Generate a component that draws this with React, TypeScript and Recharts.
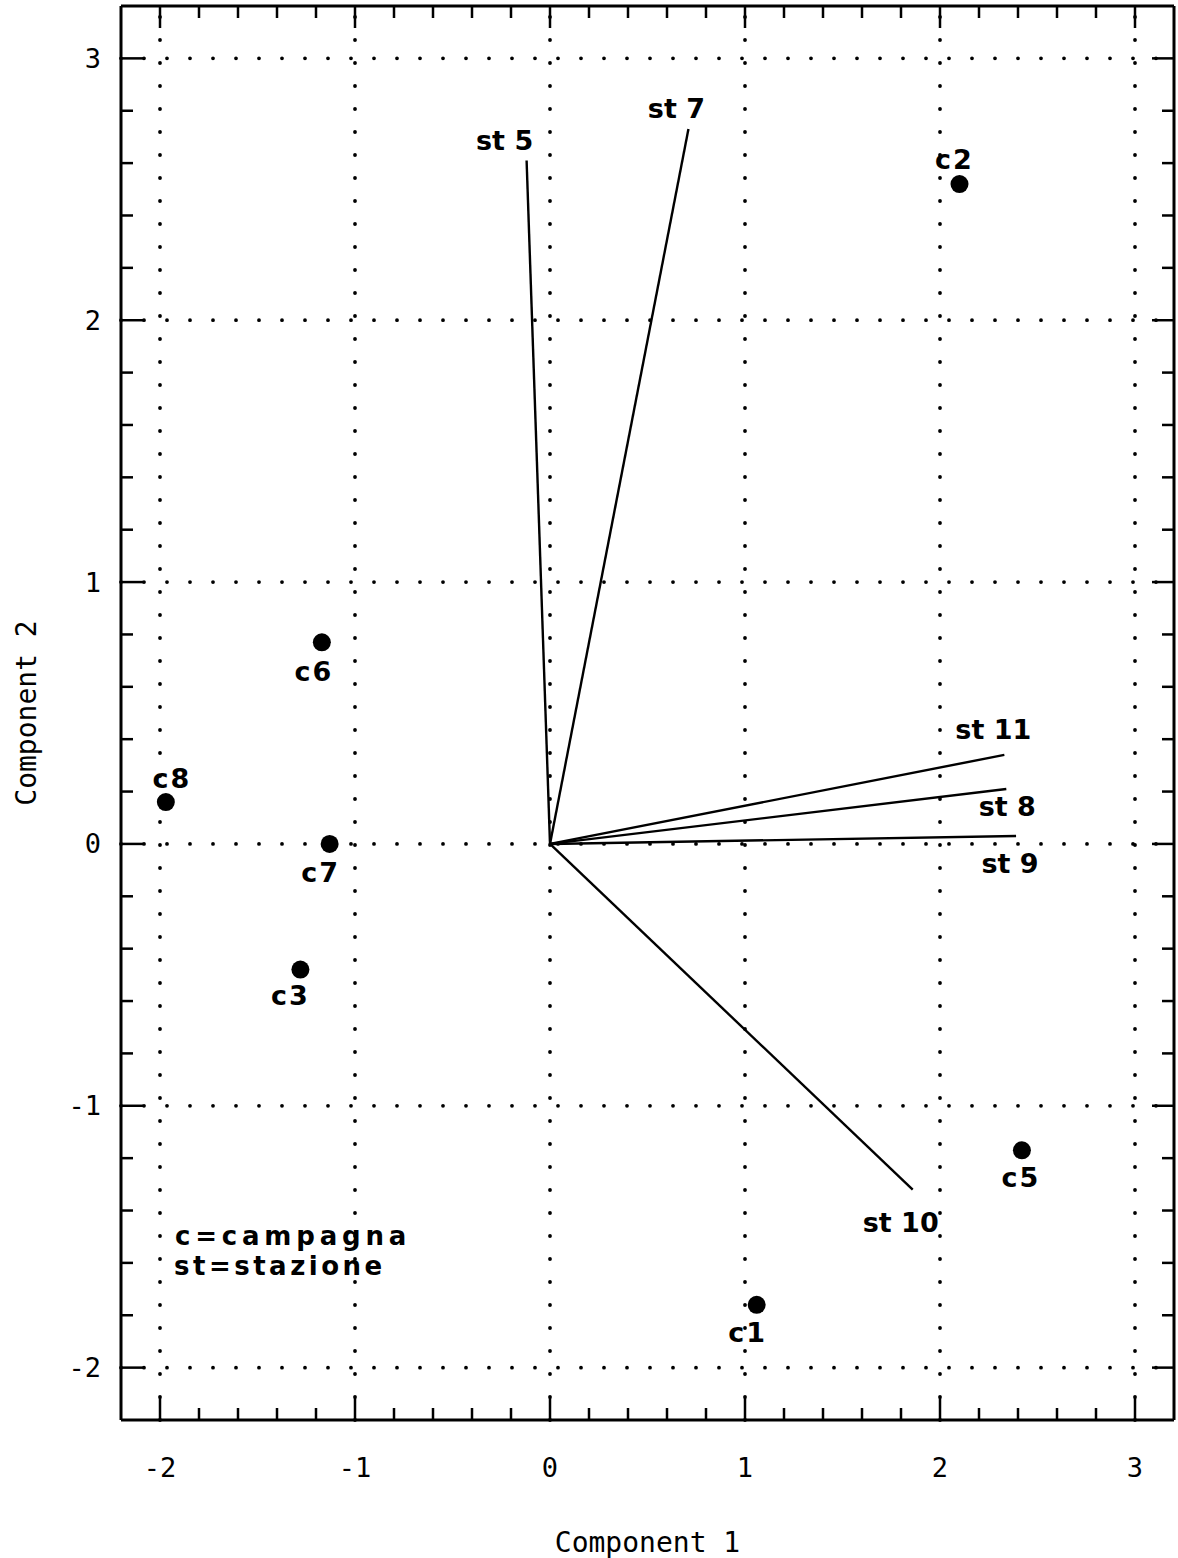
import React from 'react';
import { ScatterChart, Scatter, XAxis, YAxis, ReferenceLine } from 'recharts';

// ---------- data ----------
const pointNames = ['c1', 'c2', 'c3', 'c5', 'c6', 'c7', 'c8'];
const pointX = [1.06, 2.1, -1.28, 2.42, -1.17, -1.13, -1.97];
const pointY = [-1.76, 2.52, -0.48, -1.17, 0.77, 0.0, 0.16];

const vectorNames = ['st 5', 'st 7', 'st 8', 'st 9', 'st 10', 'st 11'];
const vectorX = [-0.12, 0.71, 2.34, 2.39, 1.86, 2.33];
const vectorY = [2.61, 2.73, 0.21, 0.03, -1.32, 0.34];

const majorTicks = [-2, -1, 0, 1, 2, 3];
const tickLabels = ['-2', '-1', '0', '1', '2', '3'];
const minorPerMajor = 5;
const axisDomain: [number, number] = [-2.2, 3.2];

const xTitle = 'Component 1';
const yTitle = 'Component 2';
const legendLines = ['c=campagna', 'st=stazione'];

// ---------- presentation config ----------
const pointLabelOffset: Record<string, [number, number]> = {
  c1: [-9, 37],
  c2: [-5, -15],
  c3: [-10, 35],
  c5: [-1, 37],
  c6: [-8, 39],
  c7: [-9, 38],
  c8: [6, -14],
};
const vectorLabelOffset: Record<string, [number, number]> = {
  'st 5': [-22, -10],
  'st 7': [-12, -11],
  'st 8': [1, 27],
  'st 9': [-6, 37],
  'st 10': [-12, 42],
  'st 11': [-11, -16],
};

const allTicks: number[] = [];
for (let i = 0; i < majorTicks.length - 1; i++) {
  const step = (majorTicks[i + 1] - majorTicks[i]) / minorPerMajor;
  for (let k = 0; k < minorPerMajor; k++) {
    allTicks.push(Math.round((majorTicks[i] + k * step) * 100) / 100);
  }
}
allTicks.push(majorTicks[majorTicks.length - 1]);

const pointData = pointNames.map((n, i) => ({ name: n, x: pointX[i], y: pointY[i] }));
const vectorData = vectorNames.map((n, i) => ({ name: n, x: vectorX[i], y: vectorY[i] }));

const TICK_MAJOR = 22;
const TICK_MINOR = 12;
const TICK_W = 2.5;
const tickFont: React.CSSProperties = {
  fontFamily: '"DejaVu Sans Mono", monospace',
  fontSize: 27,
  fill: '#000',
};
const titleFont: React.CSSProperties = {
  fontFamily: '"DejaVu Sans Mono", monospace',
  fontSize: 28,
  fill: '#000',
};
const markFont: React.CSSProperties = {
  fontFamily: '"DejaVu Sans", sans-serif',
  fontWeight: 'bold',
  fontSize: 27,
  fill: '#000',
};

const majorIndex = (v: number) => majorTicks.findIndex((m) => Math.abs(m - v) < 1e-6);

function BottomTick(props: any) {
  const { x, y, payload } = props;
  const idx = majorIndex(payload.value);
  const major = idx >= 0;
  return (
    <g>
      <line x1={x} x2={x} y1={y} y2={y - (major ? TICK_MAJOR : TICK_MINOR)} stroke="#000" strokeWidth={TICK_W} />
      {major && (
        <text x={x} y={y + 47} textAnchor="middle" dominantBaseline="central" style={tickFont}>
          {tickLabels[idx]}
        </text>
      )}
    </g>
  );
}

function TopTick(props: any) {
  const { x, y, payload } = props;
  const major = majorIndex(payload.value) >= 0;
  return (
    <line x1={x} x2={x} y1={y} y2={y + (major ? TICK_MAJOR : TICK_MINOR)} stroke="#000" strokeWidth={TICK_W} />
  );
}

function LeftTick(props: any) {
  const { x, y, payload } = props;
  const idx = majorIndex(payload.value);
  const major = idx >= 0;
  return (
    <g>
      <line x1={x} x2={x + (major ? TICK_MAJOR : TICK_MINOR)} y1={y} y2={y} stroke="#000" strokeWidth={TICK_W} />
      {major && (
        <text x={x - 20} y={y} textAnchor="end" dominantBaseline="central" style={tickFont}>
          {tickLabels[idx]}
        </text>
      )}
    </g>
  );
}

function RightTick(props: any) {
  const { x, y, payload } = props;
  const major = majorIndex(payload.value) >= 0;
  return (
    <line x1={x} x2={x - (major ? TICK_MAJOR : TICK_MINOR)} y1={y} y2={y} stroke="#000" strokeWidth={TICK_W} />
  );
}

function XTitle(props: any) {
  const vb = props.viewBox || { x: 121, y: 1420, width: 1053, height: 138 };
  const cx = vb.x + vb.width / 2;
  const cy = vb.y + 122;
  return (
    <text x={cx} y={cy} textAnchor="middle" dominantBaseline="central" style={titleFont}>
      {xTitle}
    </text>
  );
}

function YTitle(props: any) {
  const vb = props.viewBox || { x: 0, y: 6, width: 121, height: 1414 };
  const cx = vb.x + 26;
  const cy = vb.y + vb.height / 2;
  return (
    <text
      x={cx}
      y={cy}
      transform={`rotate(-90 ${cx} ${cy})`}
      textAnchor="middle"
      dominantBaseline="central"
      style={titleFont}
    >
      {yTitle}
    </text>
  );
}

function PointShape(props: any) {
  const { cx, cy, payload } = props;
  const off = pointLabelOffset[payload.name] || [0, 36];
  return (
    <g>
      <circle cx={cx} cy={cy} r={9} fill="#000" />
      <text x={cx + off[0]} y={cy + off[1]} textAnchor="middle" style={{ ...markFont, letterSpacing: 2 }}>
        {payload.name}
      </text>
    </g>
  );
}

function VectorLabelShape(props: any) {
  const { cx, cy, payload } = props;
  const off = vectorLabelOffset[payload.name] || [0, -12];
  return (
    <text x={cx + off[0]} y={cy + off[1]} textAnchor="middle" style={markFont}>
      {payload.name}
    </text>
  );
}

const gridStyle = {
  stroke: '#000',
  strokeWidth: 3.8,
  strokeDasharray: '0 23',
  strokeLinecap: 'round' as const,
};

export default function App() {
  return (
    <div style={{ position: 'absolute', left: 0, top: 0, background: '#fff' }}>
      <ScatterChart width={1178} height={1558} margin={{ top: 2, right: 0, bottom: 0, left: 0 }}>
        <XAxis
          xAxisId="b"
          type="number"
          dataKey="x"
          domain={axisDomain}
          ticks={allTicks}
          interval={0}
          allowDataOverflow
          orientation="bottom"
          height={138}
          tickSize={0}
          tickMargin={0}
          tickLine={false}
          axisLine={{ stroke: '#000', strokeWidth: 3 }}
          tick={<BottomTick />}
          label={<XTitle />}
        />
        <XAxis
          xAxisId="t"
          type="number"
          dataKey="x"
          domain={axisDomain}
          ticks={allTicks}
          interval={0}
          allowDataOverflow
          orientation="top"
          height={4}
          tickSize={0}
          tickMargin={0}
          tickLine={false}
          axisLine={{ stroke: '#000', strokeWidth: 3 }}
          tick={<TopTick />}
        />
        <YAxis
          yAxisId="l"
          type="number"
          dataKey="y"
          domain={axisDomain}
          ticks={allTicks}
          interval={0}
          allowDataOverflow
          orientation="left"
          width={121}
          tickSize={0}
          tickMargin={0}
          tickLine={false}
          axisLine={{ stroke: '#000', strokeWidth: 3 }}
          tick={<LeftTick />}
          label={<YTitle />}
        />
        <YAxis
          yAxisId="r"
          type="number"
          dataKey="y"
          domain={axisDomain}
          ticks={allTicks}
          interval={0}
          allowDataOverflow
          orientation="right"
          width={4}
          tickSize={0}
          tickMargin={0}
          tickLine={false}
          axisLine={{ stroke: '#000', strokeWidth: 3 }}
          tick={<RightTick />}
        />

        {majorTicks.map((m) => (
          <ReferenceLine key={'gx' + m} xAxisId="b" yAxisId="l" x={m} {...gridStyle} style={gridStyle} />
        ))}
        {majorTicks.map((m) => (
          <ReferenceLine key={'gy' + m} xAxisId="b" yAxisId="l" y={m} {...gridStyle} style={gridStyle} />
        ))}

        {vectorData.map((v) => (
          <ReferenceLine
            key={'v' + v.name}
            xAxisId="b"
            yAxisId="l"
            segment={[
              { x: 0, y: 0 },
              { x: v.x, y: v.y },
            ]}
            stroke="#000"
            strokeWidth={2.4}
            ifOverflow="visible"
          />
        ))}

        <Scatter
          xAxisId="b"
          yAxisId="l"
          data={vectorData}
          shape={<VectorLabelShape />}
          isAnimationActive={false}
        />
        <Scatter
          xAxisId="b"
          yAxisId="l"
          data={pointData}
          fill="#000"
          shape={<PointShape />}
          isAnimationActive={false}
        />

        <g>
          <text x={175} y={1245} style={{ ...markFont, fontSize: 26, letterSpacing: 4.8 }}>
            {legendLines[0]}
          </text>
          <text x={174} y={1275} style={{ ...markFont, fontSize: 26, letterSpacing: 3.5 }}>
            {legendLines[1]}
          </text>
        </g>
      </ScatterChart>
    </div>
  );
}
